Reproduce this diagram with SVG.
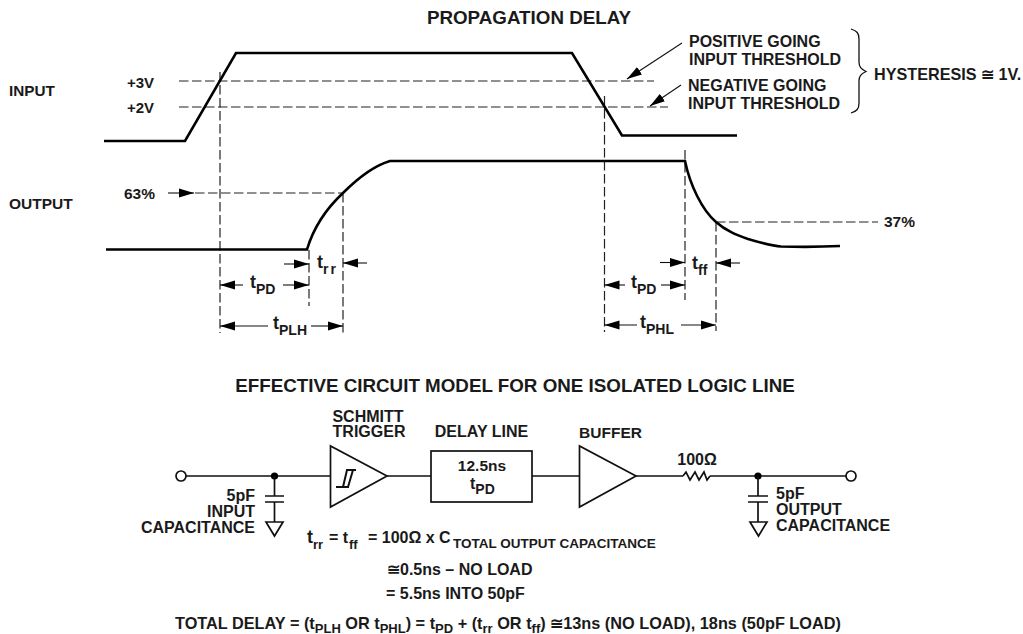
<svg xmlns="http://www.w3.org/2000/svg" width="1023" height="634" viewBox="0 0 1023 634">
<style>
text{font-family:"Liberation Sans",Arial,sans-serif;font-weight:bold;font-size:16px;fill:#1a1a1a}
.title{font-size:18.800px;text-anchor:middle}
.tv{font-size:18px}
.sb{font-size:14px}
.sm{font-size:13px}
.w{fill:none;stroke:#000;stroke-width:2.6}
.d{fill:none;stroke:#222;stroke-width:1.2;stroke-dasharray:9.500 3.500}
.l{fill:none;stroke:#111;stroke-width:1.1}
.c{fill:none;stroke:#111;stroke-width:1.700}
.e{text-anchor:end}
.m{text-anchor:middle}
</style>
<defs>
<marker id="a" markerUnits="userSpaceOnUse" markerWidth="16" markerHeight="10" refX="15" refY="5" orient="auto"><path d="M0 0.500L15 5L0 9.500Z" fill="#000"/></marker>
<marker id="b" markerUnits="userSpaceOnUse" markerWidth="16" markerHeight="10" refX="1" refY="5" orient="auto"><path d="M16 0.500L1 5L16 9.500Z" fill="#000"/></marker>
</defs>
<rect width="1023" height="634" fill="#fff"/>
<g id="connectors">
<g id="thresholds">
<path class="d" d="M179 81H654M179 107H668"/>
<path class="d" d="M220 72V333M604.500 96V332M685 150V300M343 193V333M716 222V331M309 250V306"/>
<path class="d" d="M195 193H343M716 222H878"/>
</g>
<g id="waveforms">
<path class="w" d="M104 141H185L236 53H572L622 135.500H737"/>
<path class="w" d="M106 249.500H307C314 226 328 207 343 193C358 178 373 166 390 161H685C690 185 702 210 716 222C726 231 737 235 748 239C762 243 772 246 781 246.500C800 247 820 247 840 246"/>
</g>
<g id="arrows">
<path class="l" marker-end="url(#a)" d="M168 193H194"/>
<path class="l" marker-end="url(#a)" d="M284 264H309"/>
<path class="l" marker-start="url(#b)" d="M343 263H367"/>
<path class="l" marker-start="url(#b)" d="M220 285H243"/>
<path class="l" marker-end="url(#a)" d="M283 285H309"/>
<path class="l" marker-start="url(#b)" d="M220 326H268"/>
<path class="l" marker-end="url(#a)" d="M311 326H343"/>
<path class="l" marker-end="url(#a)" d="M660 262.500H685"/>
<path class="l" marker-start="url(#b)" d="M716 263H740"/>
<path class="l" marker-start="url(#b)" d="M604.500 285H625"/>
<path class="l" marker-end="url(#a)" d="M661 285H685"/>
<path class="l" marker-start="url(#b)" d="M604.500 325H637"/>
<path class="l" marker-end="url(#a)" d="M681 325H716"/>
<path class="l" marker-end="url(#a)" d="M682 43L627 79"/>
<path class="l" marker-end="url(#a)" d="M681 85L650 106"/>
</g>
<path id="brace" class="l" style="stroke-width:1.300" d="M851 29C857 31 859 33 859 39V62C859 67 861 69 866 71.500C861 74 859 76 859 81V103C859 109 857 111 851 113"/>
<g id="wires">
<path class="c" d="M186 476H330M387 476H431M532 476H579M636 476H683M710 476H846"/>
<path class="c" d="M683 476L686 472L690 480L695 472L699 480L704 472L707 480L710 476"/>
</g>
</g>
<g id="titles">
<text class="title" x="529" y="24">PROPAGATION DELAY</text>
<text class="title" x="515" y="392">EFFECTIVE CIRCUIT MODEL FOR ONE ISOLATED LOGIC LINE</text>
</g>
<g id="labels">
<text x="9" y="95.500" style="font-size:15.300px">INPUT</text>
<text x="9" y="209" style="font-size:15.500px">OUTPUT</text>
<text x="127" y="88" style="font-size:15px">+3V</text>
<text x="127" y="113" style="font-size:15px">+2V</text>
<text x="124" y="199" style="font-size:15.500px">63%</text>
<text x="884" y="227" style="font-size:15.500px">37%</text>
<text x="689" y="47">POSITIVE GOING</text>
<text x="689" y="65">INPUT THRESHOLD</text>
<text x="688" y="91">NEGATIVE GOING</text>
<text x="688" y="109">INPUT THRESHOLD</text>
<text x="874" y="80" style="font-size:16.200px">HYSTERESIS ≅ 1V.</text>
<text class="tv" x="250" y="288">t<tspan class="sb" dy="6">PD</tspan></text>
<text class="tv" x="317" y="268">t<tspan class="sb" dy="6" letter-spacing="2">rr</tspan></text>
<text class="tv" x="273" y="329">t<tspan class="sb" dy="6">PLH</tspan></text>
<text class="tv" x="631" y="288">t<tspan class="sb" dy="6">PD</tspan></text>
<text class="tv" x="692" y="269">t<tspan class="sb" dy="6">ff</tspan></text>
<text class="tv" x="640" y="328">t<tspan class="sb" dy="6">PHL</tspan></text>
</g>
<g id="input-terminal"><circle class="c" cx="181" cy="476" r="5" style="fill:#fff"/></g>
<g id="input-cap">
<circle cx="274.500" cy="476" r="3.600" fill="#000"/>
<path class="c" d="M274.500 476V496M265 496H284M265 502H284M274.500 502V522M266 522H283L274.500 536Z"/>
<text class="e" x="255" y="501">5pF</text>
<text class="e" x="255" y="517">INPUT</text>
<text class="e" x="255" y="533">CAPACITANCE</text>
</g>
<g id="schmitt">
<path class="c" d="M330.500 446V507L387 476Z"/>
<path class="c" style="stroke-width:2" d="M336 487H349M343 487L347 470H356M348 487L353 470"/>
<text class="m" x="368" y="422">SCHMITT</text>
<text class="m" x="369" y="437">TRIGGER</text>
</g>
<g id="delay">
<rect class="c" x="431" y="451" width="101" height="51"/>
<text class="m" x="482" y="471" style="font-size:15.500px">12.5ns</text>
<text x="470" y="489" style="font-size:16px">t<tspan class="sb" dy="5">PD</tspan></text>
<text class="m" x="481.500" y="437">DELAY LINE</text>
</g>
<g id="buffer">
<path class="c" d="M579.500 446V507L636 476Z"/>
<text class="m" x="610.500" y="438" style="font-size:15.500px">BUFFER</text>
</g>
<g id="resistor"><text class="m" x="697" y="465">100Ω</text></g>
<g id="output-cap">
<circle cx="758" cy="476" r="3.600" fill="#000"/>
<path class="c" d="M758 476V496M748 496H768M748 502H768M758 502V522M750 522H767L758.500 536Z"/>
<text x="776" y="499">5pF</text>
<text x="776" y="515">OUTPUT</text>
<text x="776" y="531">CAPACITANCE</text>
</g>
<g id="output-terminal"><circle class="c" cx="851" cy="476" r="5" style="fill:#fff"/></g>
<g id="equations">
<text x="307" y="543" class="tv">t</text><text x="313" y="549" class="sm">rr</text>
<text x="329" y="543">= t</text><text x="349" y="549" class="sm">ff</text>
<text x="368" y="543">= 100Ω x C</text>
<text x="453" y="548" style="font-size:13.500px">TOTAL OUTPUT CAPACITANCE</text>
<text x="387" y="575">≅0.5ns – NO LOAD</text>
<text x="386" y="599">= 5.5ns INTO 50pF</text>
<text x="175" y="629" style="font-size:16.300px">TOTAL DELAY = (t<tspan class="sm" dy="4">PLH</tspan><tspan dy="-4"> OR t</tspan><tspan class="sm" dy="4">PHL</tspan><tspan dy="-4">) = t</tspan><tspan class="sm" dy="4">PD</tspan><tspan dy="-4"> + (t</tspan><tspan class="sm" dy="4">rr</tspan><tspan dy="-4"> OR t</tspan><tspan class="sm" dy="4">ff</tspan><tspan dy="-4">) ≅13ns (NO LOAD), 18ns (50pF LOAD)</tspan></text>
</g>
</svg>
